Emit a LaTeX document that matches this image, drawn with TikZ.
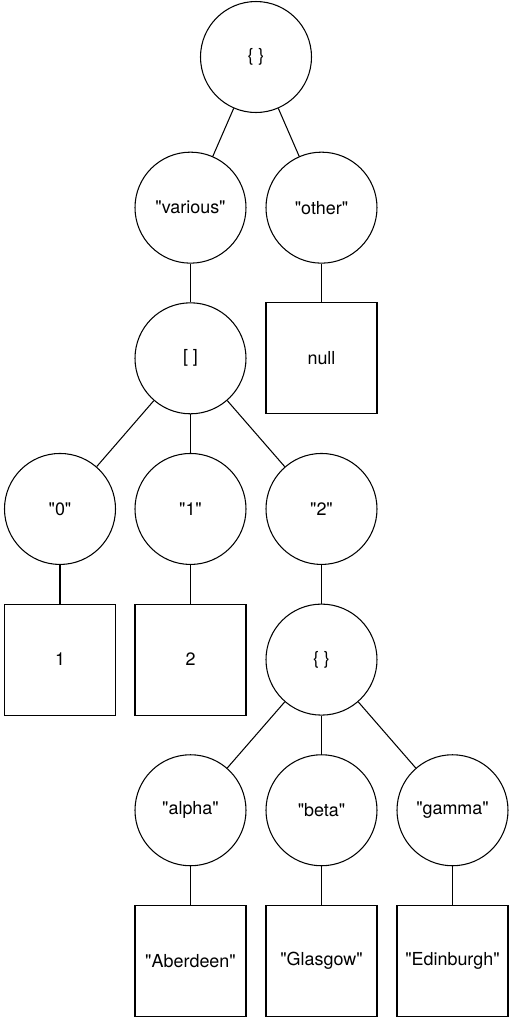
\documentclass[tikz,border=0pt]{standalone}
\usepackage{fontspec}
\setmainfont{TeX Gyre Heros}[Ligatures=TeXOff]
\usepackage{tikz}

\begin{document}
\begin{tikzpicture}[node distance=3.013cm, every node/.style={font=\fontsize{10.2}{12}\selectfont}]
\tikzstyle{crc} = [circle, minimum size=2.22cm, inner sep=0pt, draw=black, line width=.6pt, fill=white]
\tikzstyle{sqr} = [rectangle, minimum size=2.22cm, inner sep=0pt, draw=black, line width=.6pt, fill=white]
\tikzstyle{edge} = [line width=.6pt]

\useasboundingbox (0,0) rectangle (10.24,-20.48);

\node (root) [crc] at (5.12,-1.14) {\{ \}};
\node (various) [crc, below of=root, xshift=-1.31cm] {"various"};
\node (other) [crc, below of=root, xshift=1.31cm] {"other"};
\node (arr) [crc, below of=various] {[ ]};
\node (null) [sqr, below of=other] {null};

\node (k0) [crc, below of=arr, xshift=-2.61cm] {"0"};
\node (k1) [crc, below of=arr] {"1"};
\node (k2) [crc, below of=arr, xshift=2.62cm] {"2"};
\node (v0) [sqr, below of=k0] {1};
\node (v1) [sqr, below of=k1] {2};
\node (obj) [crc, below of=k2] {\{ \}};

\node (alpha) [crc, below of=obj, xshift=-2.62cm] {"alpha"};
\node (beta) [crc, below of=obj] {"beta"};
\node (gamma) [crc, below of=obj, xshift=2.62cm] {"gamma"};
\node (aberdeen) [sqr, below of=alpha] {"Aberdeen"};
\node (glasgow) [sqr, below of=beta] {"Glasgow"};
\node (edinburgh) [sqr, below of=gamma] {"Edinburgh"};

\draw[edge] (root) -- (various);
\draw[edge] (root) -- (other);
\draw[edge] (various) -- (arr);
\draw[edge] (other) -- (null);

\draw[edge] (arr) -- (k0);
\draw[edge] (arr) -- (k1);
\draw[edge] (arr) -- (k2);
\draw[edge] (k0) -- (v0);
\draw[edge] (k1) -- (v1);
\draw[edge] (k2) -- (obj);

\draw[edge] (obj) -- (alpha);
\draw[edge] (obj) -- (beta);
\draw[edge] (obj) -- (gamma);
\draw[edge] (alpha) -- (aberdeen);
\draw[edge] (beta) -- (glasgow);
\draw[edge] (gamma) -- (edinburgh);

\end{tikzpicture}
\end{document}
